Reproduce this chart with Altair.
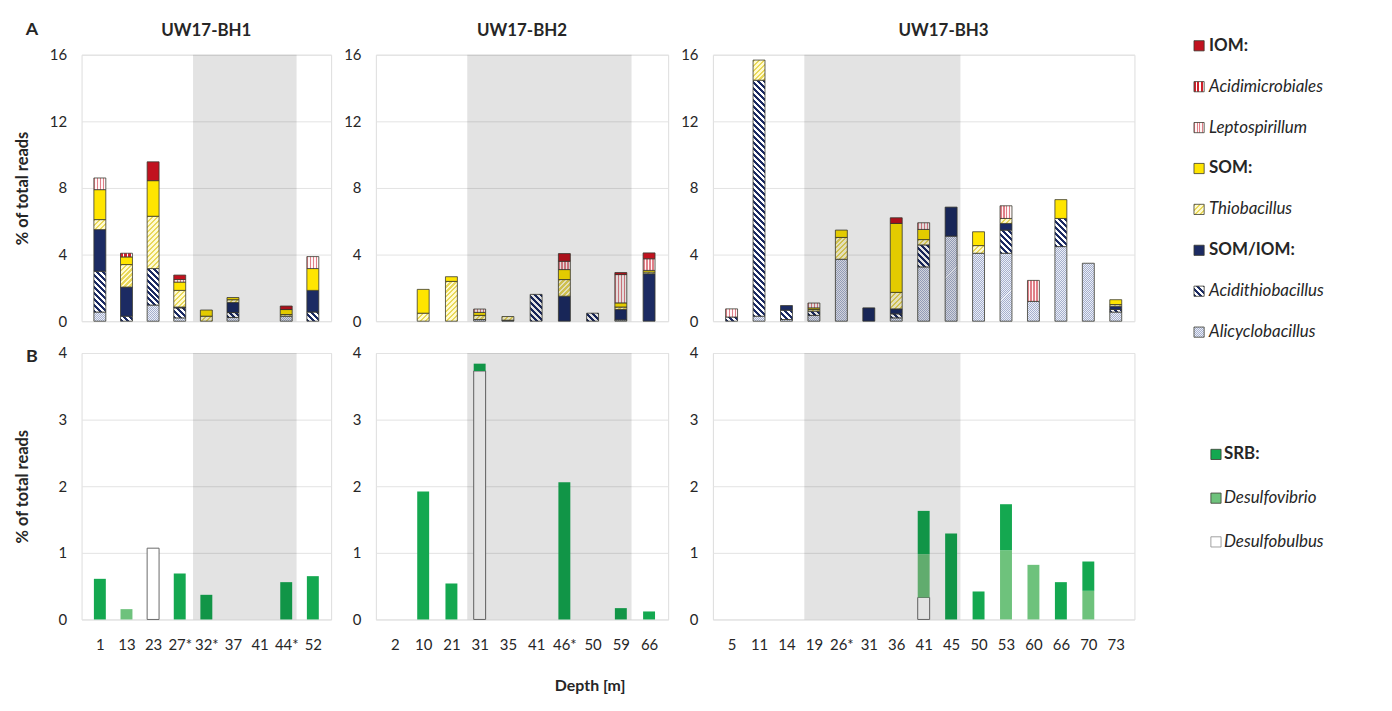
import json
import altair as alt

# ---------------- data ----------------
SERIES_A = ["Alicyclobacillus", "Acidithiobacillus", "SOM/IOM", "Thiobacillus",
            "SOM", "Leptospirillum", "Acidimicrobiales", "IOM"]  # stack order, bottom -> top
SERIES_B = ["Desulfobulbus", "Desulfovibrio", "SRB"]              # stack order, bottom -> top

bh1_depths = ["1", "13", "23", "27*", "32*", "37", "41", "44*", "52"]
bh2_depths = ["2", "10", "21", "31", "35", "41", "46*", "50", "59", "66"]
bh3_depths = ["5", "11", "14", "19", "26*", "31", "36", "41", "45", "50", "53", "60", "66", "70", "73"]

# Panel A (% of total reads)
bh1_alicyclobacillus = [0.55, 0, 0.97, 0.2, 0, 0.22, 0, 0.3, 0]
bh1_acidithiobacillus = [2.45, 0.3, 2.19, 0.6, 0, 0.3, 0, 0, 0.55]
bh1_som_iom = [2.5, 1.75, 0, 0.05, 0, 0.6, 0, 0, 1.3]
bh1_thiobacillus = [0.6, 1.35, 3.14, 1.0, 0.3, 0.17, 0, 0.1, 0]
bh1_som = [1.8, 0.46, 2.14, 0.5, 0.37, 0.13, 0, 0.3, 1.31]
bh1_leptospirillum = [0.7, 0, 0, 0.15, 0, 0, 0, 0, 0.72]
bh1_acidimicrobiales = [0, 0.22, 0, 0, 0, 0, 0, 0, 0]
bh1_iom = [0, 0, 1.13, 0.27, 0, 0, 0, 0.21, 0]

bh2_alicyclobacillus = [0, 0, 0, 0.1, 0, 0, 0, 0, 0.08, 0]
bh2_acidithiobacillus = [0, 0, 0, 0, 0, 1.61, 0, 0.48, 0, 0]
bh2_som_iom = [0, 0, 0, 0, 0.06, 0, 1.5, 0, 0.62, 2.85]
bh2_thiobacillus = [0, 0.48, 2.39, 0.25, 0.22, 0, 1.0, 0, 0.15, 0.1]
bh2_som = [0, 1.43, 0.28, 0.18, 0, 0, 0.6, 0, 0.25, 0.1]
bh2_leptospirillum = [0, 0, 0, 0.2, 0, 0, 0.5, 0, 1.7, 0.7]
bh2_acidimicrobiales = [0, 0, 0, 0, 0, 0, 0, 0, 0, 0]
bh2_iom = [0, 0, 0, 0, 0, 0, 0.46, 0, 0.12, 0.35]

bh3_alicyclobacillus = [0, 0.3, 0.1, 0.35, 3.72, 0, 0.2, 3.26, 5.11, 4.08, 4.08, 1.19, 4.48, 3.48, 0.55]
bh3_acidithiobacillus = [0.25, 14.17, 0.56, 0.25, 0, 0, 0.24, 1.32, 0, 0, 1.39, 0, 1.69, 0, 0.15]
bh3_som_iom = [0, 0, 0.28, 0, 0, 0.8, 0.3, 0, 1.74, 0, 0.4, 0, 0, 0, 0.2]
bh3_thiobacillus = [0, 1.21, 0, 0.1, 1.31, 0, 0.99, 0.32, 0, 0.46, 0.3, 0, 0, 0, 0.1]
bh3_som = [0, 0, 0, 0.1, 0.44, 0, 4.14, 0.61, 0, 0.83, 0, 0, 1.13, 0, 0.29]
bh3_leptospirillum = [0.49, 0, 0, 0.29, 0, 0, 0, 0.4, 0, 0, 0.76, 1.26, 0, 0, 0]
bh3_acidimicrobiales = [0] * 15
bh3_iom = [0, 0, 0, 0, 0, 0, 0.34, 0, 0, 0, 0, 0, 0, 0, 0]

# Panel B (% of total reads)
bh1_srb = [0.61, 0, 0, 0.69, 0.37, 0, 0, 0.56, 0.65]
bh1_desulfovibrio = [0, 0.155, 0, 0, 0, 0, 0, 0, 0]
bh1_desulfobulbus = [0, 0, 1.07, 0, 0, 0, 0, 0, 0]

bh2_srb = [0, 1.92, 0.54, 0.11, 0, 0, 2.06, 0, 0.17, 0.12]
bh2_desulfovibrio = [0] * 10
bh2_desulfobulbus = [0, 0, 0, 3.73, 0, 0, 0, 0, 0, 0]

bh3_srb = [0, 0, 0, 0, 0, 0, 0, 0.65, 1.29, 0.42, 0.69, 0, 0.56, 0.44, 0]
bh3_desulfovibrio = [0, 0, 0, 0, 0, 0, 0, 0.65, 0, 0, 1.04, 0.82, 0, 0.43, 0]
bh3_desulfobulbus = [0, 0, 0, 0, 0, 0, 0, 0.33, 0, 0, 0, 0, 0, 0, 0]

# shaded depth zone per borehole, in sample-index units
bh1_zone = [3.5, 7.39]
bh2_zone = [2.56, 8.38]
bh3_zone = [2.65, 8.34]

legend_a_labels = ["IOM:", "Acidimicrobiales", "Leptospirillum", "SOM:",
                   "Thiobacillus", "SOM/IOM:", "Acidithiobacillus", "Alicyclobacillus"]
legend_a_series = ["IOM", "Acidimicrobiales", "Leptospirillum", "SOM",
                   "Thiobacillus", "SOM/IOM", "Acidithiobacillus", "Alicyclobacillus"]
legend_b_labels = ["SRB:", "Desulfovibrio", "Desulfobulbus"]
legend_b_series = ["SRB", "Desulfovibrio", "Desulfobulbus"]

# ---------------- styling helpers ----------------
FONT = "Lato"
TXT = "#262626"
H = 268
BAR_W = 12
PX_A = H / 16.0
NAVY = "#1C2B63"


def diag(w, h, color, bg, period, frac, forward):
    w = max(w, 0.5)
    h = max(h, 0.5)
    k = (w + h) / (w * w + h * h)
    if forward:
        x1, y1, x2, y2 = 0, 0, w * k, h * k
    else:
        x1, y1, x2, y2 = 0, 1, w * k, 1 - h * k
    L = w + h
    stops = []
    s = 0.0
    while s < L:
        a = s / L
        b = min((s + period * frac) / L, 1.0)
        c = min((s + period) / L, 1.0)
        stops += [{"offset": a, "color": color}, {"offset": b, "color": color},
                  {"offset": b, "color": bg}, {"offset": c, "color": bg}]
        s += period
    return {"gradient": "linear", "x1": x1, "y1": y1, "x2": x2, "y2": y2, "stops": stops}


def vstripes(color, bg, n, frac):
    stops = []
    for j in range(n):
        a = j / n
        b = (j + frac) / n
        c = (j + 1) / n
        stops += [{"offset": a, "color": color}, {"offset": b, "color": color},
                  {"offset": b, "color": bg}, {"offset": c, "color": bg}]
    return {"gradient": "linear", "x1": 0, "y1": 0, "x2": 1, "y2": 0, "stops": stops}


def fill_for(series, w, h):
    if series == "IOM":
        return "#C1121F"
    if series == "SOM":
        return "#FFE500"
    if series == "SOM/IOM":
        return NAVY
    if series == "Acidimicrobiales":
        return vstripes("#D0202B", "#FFFFFF", 3, 0.62)
    if series == "Leptospirillum":
        return vstripes("#E07F88", "#FFF6F6", 4, 0.5)
    if series == "Thiobacillus":
        return diag(w, h, "#E9D85A", "#FFFBD2", 5.0, 0.45, True)
    if series == "Acidithiobacillus":
        return diag(w, h, NAVY, "#FFFFFF", 6.0, 0.5, False)
    if series == "Alicyclobacillus":
        return diag(w, h, "#A5AFCE", "#ECEFF6", 2.0, 0.5, True)
    if series == "SRB":
        return "#14A850"
    if series == "Desulfovibrio":
        return "#6EC27C"
    return "#FFFFFF"


def x_scale(n):
    return alt.Scale(domain=[-0.5, n - 0.5], nice=False, zero=False)


def y_axis(values, title):
    kw = dict(values=values, format="d", grid=True, gridColor="#e3e3e3", gridWidth=1, ticks=False,
              domain=False, labelPadding=15, labelFontSize=15, labelColor=TXT, labelFont=FONT)
    if title:
        kw.update(title=title, titleFontSize=16.5, titleFontWeight="bold", titleColor=TXT,
                  titleFont=FONT, titleX=-59, titleAlign="center", titleBaseline="middle")
    else:
        kw.update(title=None)
    return alt.Axis(**kw)


def label_layer(text, x, y, size):
    return alt.Chart(alt.Data(values=[{"t": text}])).mark_text(
        fontSize=size, fontWeight="bold", font=FONT, color=TXT, align="center", baseline="middle"
    ).encode(x=alt.value(x), y=alt.value(y), text="t:N")


def panel_a(depths, cols, zone, title, width, show_title, letter=None, title_dx=0):
    n = len(depths)
    recs = []
    for i in range(n):
        base = 0.0
        for s in SERIES_A:
            v = cols[s][i]
            if v <= 0:
                continue
            recs.append({"idx": i, "series": s, "y0": base, "y1": base + v,
                         "fill": fill_for(s, BAR_W, v * PX_A)})
            base += v
    xs = x_scale(n)
    ys = alt.Scale(domain=[0, 16], nice=False, zero=True)
    yax = y_axis([0, 4, 8, 12, 16], "% of total reads" if show_title else None)
    bars = alt.Chart(alt.Data(values=recs)).mark_bar(
        size=BAR_W, stroke="#3a3a30", strokeWidth=0.8
    ).encode(
        x=alt.X("idx:Q", scale=xs, axis=None),
        y=alt.Y("y0:Q", scale=ys, axis=yax),
        y2="y1:Q",
        fill=alt.Fill("fill:N", scale=None),
    )
    band = alt.Chart(alt.Data(values=[{"b0": zone[0], "b1": zone[1]}])).mark_rect(
        fill="#000000", fillOpacity=0.11
    ).encode(
        x=alt.X("b0:Q", scale=xs, axis=None), x2="b1:Q",
        y=alt.datum(16, scale=ys, axis=yax), y2=alt.datum(0),
    )
    layers = [bars, band, label_layer(title, width / 2 + title_dx, -24, 17)]
    if letter:
        layers.append(label_layer(letter, -50, -25, 18))
    return alt.layer(*layers).properties(width=width, height=H)


def panel_b(depths, cols, zone, width, show_title, letter=None, depth_title=False):
    n = len(depths)
    recs = []
    for i in range(n):
        base = 0.0
        for s in SERIES_B:
            v = cols[s][i]
            if v <= 0:
                continue
            recs.append({"idx": i, "series": s, "y0": base, "y1": base + v,
                         "fill": fill_for(s, BAR_W, 0),
                         "stroke": "#6a6a6a" if s == "Desulfobulbus" else "transparent"})
            base += v
    xs = x_scale(n)
    ys = alt.Scale(domain=[0, 4], nice=False, zero=True)
    label_expr = json.dumps(depths) + "[datum.value]"
    xkw = dict(values=list(range(n)), labelExpr=label_expr, ticks=False, domain=False, grid=False,
               labelPadding=18, labelFontSize=15, labelColor=TXT, labelFont=FONT, labelAngle=0,
               labelOverlap=False, labelBound=False, labelFlush=False)
    if depth_title:
        xkw.update(title="Depth [m]", titleFontSize=16, titleFontWeight="bold", titleColor=TXT,
                   titleFont=FONT, titleX=215, titleY=66, titleAlign="center", titleBaseline="middle")
    else:
        xkw.update(title=None)
    xax = alt.Axis(**xkw)
    yax = y_axis([0, 1, 2, 3, 4], "% of total reads" if show_title else None)
    bars = alt.Chart(alt.Data(values=recs)).mark_bar(size=BAR_W, strokeWidth=1).encode(
        x=alt.X("idx:Q", scale=xs, axis=xax),
        y=alt.Y("y0:Q", scale=ys, axis=yax),
        y2="y1:Q",
        fill=alt.Fill("fill:N", scale=None),
        stroke=alt.Stroke("stroke:N", scale=None),
    )
    band = alt.Chart(alt.Data(values=[{"b0": zone[0], "b1": zone[1]}])).mark_rect(
        fill="#000000", fillOpacity=0.11
    ).encode(
        x=alt.X("b0:Q", scale=xs, axis=xax), x2="b1:Q",
        y=alt.datum(4, scale=ys, axis=yax), y2=alt.datum(0),
    )
    layers = [bars, band]
    if letter:
        layers.append(label_layer(letter, -50, 4, 18))
    return alt.layer(*layers).properties(width=width, height=H)


def legend(labels, series, domain, sw_x, tx_x):
    recs = []
    for i, (lab, s) in enumerate(zip(labels, series)):
        recs.append({"i": i, "label": lab, "bold": lab.endswith(":"),
                     "fill": fill_for(s, 10, 10),
                     "stroke": "#8a8a8a" if s == "Desulfobulbus" else "#3a3a30"})
    ys = alt.Scale(domain=domain, reverse=True, nice=False, zero=False)
    base = alt.Chart(alt.Data(values=recs))
    sw = base.mark_square(size=105, strokeWidth=0.8, opacity=1).encode(
        x=alt.value(sw_x), y=alt.Y("i:Q", scale=ys, axis=None),
        fill=alt.Fill("fill:N", scale=None), stroke=alt.Stroke("stroke:N", scale=None),
    )
    tb = base.transform_filter("datum.bold").mark_text(
        align="left", baseline="middle", fontSize=17, fontWeight="bold", font=FONT, color=TXT
    ).encode(x=alt.value(tx_x), y=alt.Y("i:Q", scale=ys, axis=None), text="label:N")
    ti = base.transform_filter("!datum.bold").mark_text(
        align="left", baseline="middle", fontSize=17, fontStyle="italic", font=FONT, color=TXT
    ).encode(x=alt.value(tx_x), y=alt.Y("i:Q", scale=ys, axis=None), text="label:N")
    return alt.layer(sw, tb, ti).properties(
        width=200, height=H, view=alt.ViewBackground(stroke="transparent")
    )


def cols_a(a, b, c, d, e, f, g, h):
    return dict(zip(SERIES_A, [a, b, c, d, e, f, g, h]))


def cols_b(bulbus, vibrio, srb):
    return dict(zip(SERIES_B, [bulbus, vibrio, srb]))


A1 = panel_a(bh1_depths, cols_a(bh1_alicyclobacillus, bh1_acidithiobacillus, bh1_som_iom, bh1_thiobacillus,
                                bh1_som, bh1_leptospirillum, bh1_acidimicrobiales, bh1_iom),
             bh1_zone, "UW17-BH1", 251, True, letter="A")
A2 = panel_a(bh2_depths, cols_a(bh2_alicyclobacillus, bh2_acidithiobacillus, bh2_som_iom, bh2_thiobacillus,
                                bh2_som, bh2_leptospirillum, bh2_acidimicrobiales, bh2_iom),
             bh2_zone, "UW17-BH2", 294, False)
A3 = panel_a(bh3_depths, cols_a(bh3_alicyclobacillus, bh3_acidithiobacillus, bh3_som_iom, bh3_thiobacillus,
                                bh3_som, bh3_leptospirillum, bh3_acidimicrobiales, bh3_iom),
             bh3_zone, "UW17-BH3", 424, False, title_dx=20)
LA = legend(legend_a_labels, legend_a_series, [0.2188, 6.733], 20, 30)

B1 = panel_b(bh1_depths, cols_b(bh1_desulfobulbus, bh1_desulfovibrio, bh1_srb), bh1_zone, 251, True, letter="B")
B2 = panel_b(bh2_depths, cols_b(bh2_desulfobulbus, bh2_desulfovibrio, bh2_srb), bh2_zone, 294, False,
             depth_title=True)
B3 = panel_b(bh3_depths, cols_b(bh3_desulfobulbus, bh3_desulfovibrio, bh3_srb), bh3_zone, 424, False)
LB = legend(legend_b_labels, legend_b_series, [-2.318, 3.773], 37, 45)

chart = alt.concat(
    A1, A2, A3, LA, B1, B2, B3, LB,
    columns=4, spacing={"row": 32, "column": 45}, bounds="flush",
    padding={"left": 6, "top": 10, "right": 5, "bottom": 5},
).configure_view(stroke="#5a5a5a", strokeWidth=1.2).configure(background="white")

chart.save("out.html", embed_options={"renderer": "svg", "actions": False})
